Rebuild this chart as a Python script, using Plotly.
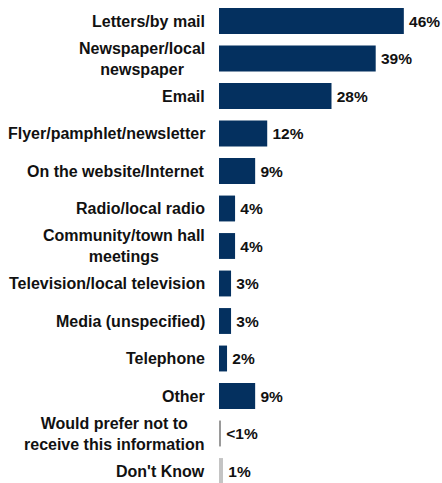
import plotly.graph_objects as go

# Survey: preferred ways of receiving information
categories = [
    "Letters/by mail",
    "Newspaper/local<br>newspaper",
    "Email",
    "Flyer/pamphlet/newsletter",
    "On the website/Internet",
    "Radio/local radio",
    "Community/town hall<br>meetings",
    "Television/local television",
    "Media (unspecified)",
    "Telephone",
    "Other",
    "Would prefer not to<br>receive this information",
    "Don't Know",
]
values = [46, 39, 28, 12, 9, 4, 4, 3, 3, 2, 9, 0.5, 1]
value_labels = ["46%", "39%", "28%", "12%", "9%", "4%", "4%", "3%", "3%", "2%", "9%", "<1%", "1%"]
bar_colors = ["#04305f"] * 11 + ["#9a9a9a", "#c4c4c4"]

FONT = "Liberation Sans, Arial, sans-serif"
positions = list(range(len(categories)))

fig = go.Figure(
    go.Bar(
        x=values,
        y=positions,
        orientation="h",
        marker=dict(color=bar_colors, line=dict(width=0)),
        text=value_labels,
        # small non-breaking spacer widens the gap between bar end and label
        texttemplate="<span style='font-size:8px'>\u00a0</span><b>%{text}</b>",
        textposition="outside",
        textfont=dict(family=FONT, size=15.5, color="#111111"),
        cliponaxis=False,
        width=0.69,
    )
)

# Category labels: right-aligned block, multi-line labels centred within it
for pos, label in zip(positions, categories):
    fig.add_annotation(
        x=0, xref="paper", y=pos, yref="y",
        text="<b>" + label + "</b>",
        xanchor="right", yanchor="middle", align="center",
        xshift=-12, showarrow=False,
        font=dict(family=FONT, size=16, color="#111111"),
    )

fig.update_layout(
    width=442, height=483,
    margin=dict(l=219, r=0, t=0, b=0),
    paper_bgcolor="white", plot_bgcolor="white",
    showlegend=False,
    xaxis=dict(range=[0, 55.5], visible=False, fixedrange=True),
    yaxis=dict(range=[12.32, -0.56], visible=False, fixedrange=True),
)

fig.write_html("out.html")
